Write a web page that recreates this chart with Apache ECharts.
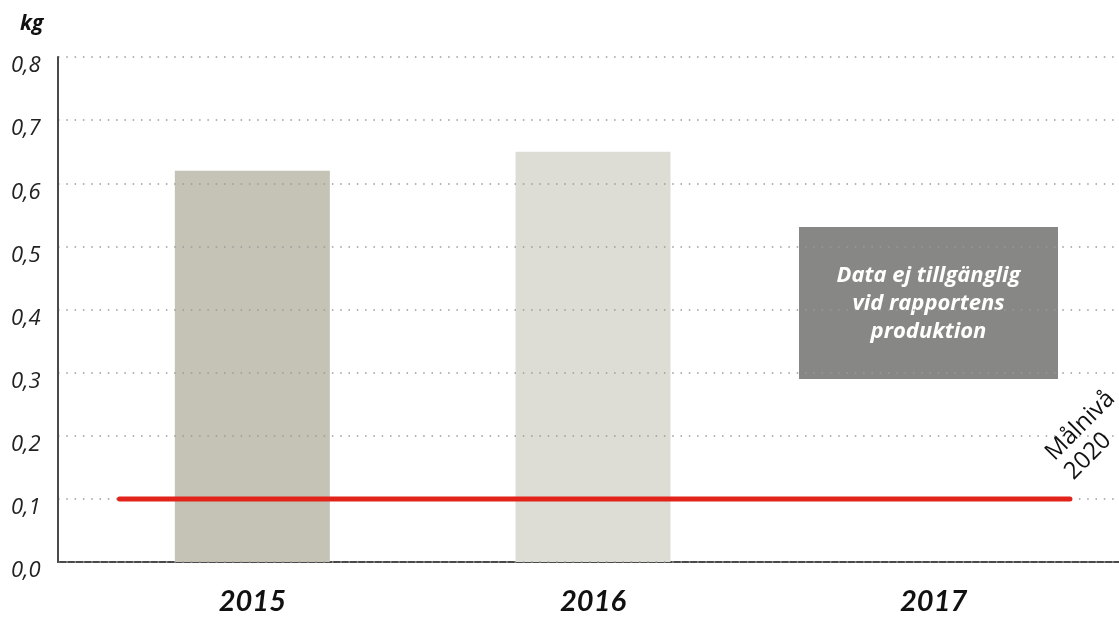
<!DOCTYPE html>
<html>
<head>
<meta charset="utf-8">
<script src="https://cdn.jsdelivr.net/npm/echarts@6/dist/echarts.min.js"></script>
<style>
  html, body { margin: 0; padding: 0; background: #fff; }
  #chart { width: 1119px; height: 617px; }
</style>
</head>
<body>
<div id="chart"></div>
<script>
// data
const years = ['2015', '2016', '2017']
const values = [0.62, 0.65, null] // 2017: no data
const barColors = ['#c5c2b6', '#deddd5', '#deddd5']
const targetValue = 0.1
const targetStart = -0.39
const targetEnd = 2.40
const targetLabel = 'Målnivå\n2020'
const noDataText = 'Data ej tillgänglig\nvid rapportens\nproduktion'
const unit = 'kg'

const chart = echarts.init(document.getElementById('chart'))

const option = {
  animation: false,
  grid: [
    { left: 58, right: 0, top: 57, bottom: 55 },
    { left: 82, right: 15, top: 57, bottom: 55 }
  ],
  xAxis: [
    {
      gridIndex: 0,
      type: 'value',
      min: 0,
      max: 1,
      axisLine: { show: true, lineStyle: { color: '#4a4a4a', width: 2 } },
      axisTick: { show: false },
      axisLabel: { show: false },
      splitLine: { show: false }
    },
    {
      gridIndex: 1,
      type: 'category',
      data: years,
      axisLine: { show: false },
      axisTick: { show: false },
      axisLabel: {
        margin: 25,
        fontSize: 29,
        fontWeight: 'bold',
        fontStyle: 'italic',
        fontFamily: 'Lato',
        color: '#111'
      }
    },
    {
      gridIndex: 1,
      type: 'value',
      min: -0.5,
      max: 2.5,
      show: false
    }
  ],
  yAxis: [
    {
      gridIndex: 0,
      type: 'value',
      min: 0,
      max: 0.8,
      interval: 0.1,
      z: 3,
      axisLine: { show: true, lineStyle: { color: '#4a4a4a', width: 2 } },
      axisTick: { show: false },
      axisLabel: {
        margin: 47,
        align: 'left',
        verticalAlign: 'top',
        fontSize: 22,
        fontStyle: 'italic',
        fontFamily: 'Open Sans',
        color: '#222',
        padding: [-2, 0, 0, 0],
        formatter: v => v.toFixed(1).replace('.', ',')
      },
      splitLine: {
        show: true,
        lineStyle: { color: '#9a9a9a', width: 1.5, type: [1.5, 6.8] }
      }
    },
    {
      gridIndex: 1,
      type: 'value',
      min: 0,
      max: 0.8,
      show: false
    }
  ],
  graphic: [
    {
      type: 'text',
      left: 20,
      top: 14,
      style: {
        text: unit,
        font: 'italic bold 21px "Open Sans"',
        fill: '#111'
      }
    },
    {
      type: 'group',
      left: 799,
      top: 227,
      z: 10,
      children: [
        {
          type: 'rect',
          shape: { x: 0, y: 0, width: 259, height: 152 },
          style: { fill: '#878786' }
        },
        {
          type: 'text',
          x: 129.5,
          y: 77,
          style: {
            text: noDataText,
            font: 'italic bold 22px "Open Sans"',
            fill: '#fff',
            align: 'center',
            verticalAlign: 'middle',
            lineHeight: 28
          }
        }
      ]
    },
    {
      type: 'text',
      x: 1040,
      y: 447,
      rotation: Math.PI / 4,
      z: 10,
      style: {
        text: targetLabel,
        font: '24px "Open Sans"',
        fill: '#111',
        align: 'left',
        verticalAlign: 'top',
        lineHeight: 27
      }
    }
  ],
  series: [
    {
      type: 'bar',
      xAxisIndex: 1,
      yAxisIndex: 1,
      barWidth: 155,
      data: values.map((v, i) => ({ value: v, itemStyle: { color: barColors[i] } }))
    },
    {
      type: 'line',
      xAxisIndex: 2,
      yAxisIndex: 1,
      symbol: 'none',
      z: 5,
      lineStyle: { color: '#e2231a', width: 5, cap: 'round' },
      data: [[targetStart, targetValue], [targetEnd, targetValue]]
    }
  ]
}

chart.setOption(option)
</script>
</body>
</html>
